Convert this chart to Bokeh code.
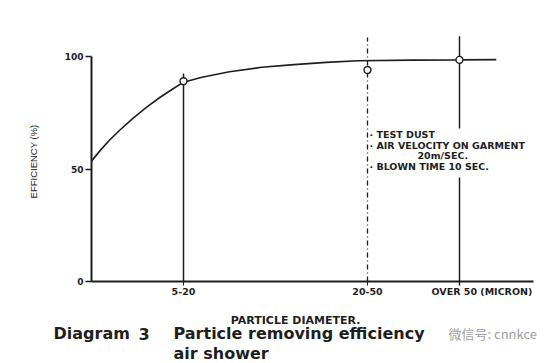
import math
from bokeh.plotting import figure
from bokeh.models import Range1d, LinearAxis, FixedTicker, ColumnDataSource
from bokeh.core.properties import value
from bokeh.embed import file_html
from bokeh.resources import INLINE

# ---- data ----
categories = ["5-20", "20-50", "OVER 50 (MICRON)"]
cat_pos = [1, 3, 4]                 # positions of the three particle classes
efficiency = [89, 94, 98.5]         # measured points (%)

curve_x = [0, 0.1, 0.2, 0.3, 0.45, 0.6, 0.75, 0.9, 1.0, 1.2, 1.5, 1.85, 2.2, 2.55, 2.9, 3.5, 4.0, 4.4]
curve_y = [53.5, 58.5, 63, 67, 72.5, 77.5, 82, 86, 88.6, 90.8, 93.2, 95.2, 96.4, 97.4, 98.1, 98.4, 98.5, 98.6]

y_ticks = [0, 50, 100]

notes = ["\u00b7 TEST DUST", "\u00b7 AIR VELOCITY ON GARMENT", "20m/SEC.", "\u00b7 BLOWN TIME 10 SEC."]

INK = "#1e1e1e"
BOLD = value("DejaVu Sans")

# page pixel -> data helpers (frame covers the whole canvas)
def dx(px):
    return (px - 91) / 92

def dy(py):
    return (281 - py) / 2.25

p = figure(width=554, height=363, output_backend="svg", toolbar_location=None,
           x_range=Range1d(dx(0), dx(554)), y_range=Range1d(dy(363), dy(0)),
           x_axis_type=None, y_axis_type=None, min_border=0)
p.outline_line_color = None
p.xgrid.visible = False
p.ygrid.visible = False
p.background_fill_color = "white"
p.border_fill_color = "white"

# axes
yax = LinearAxis(fixed_location=0, bounds=(0, 100), ticker=FixedTicker(ticks=y_ticks))
yax.axis_line_width = 2
yax.axis_line_color = INK
yax.major_tick_out = 6
yax.major_tick_in = 0
yax.major_tick_line_color = INK
yax.major_tick_line_width = 1.5
yax.minor_tick_line_color = None
yax.major_label_standoff = 2
yax.major_label_text_font = "DejaVu Sans"
yax.major_label_text_font_style = "bold"
yax.major_label_text_font_size = "9px"
yax.major_label_text_color = INK
p.add_layout(yax, "left")

xax = LinearAxis(fixed_location=0, bounds=(0, 4.8), ticker=FixedTicker(ticks=cat_pos[:2]),
                 major_label_overrides={cat_pos[0]: categories[0], cat_pos[1]: categories[1]})
xax.axis_line_width = 2
xax.axis_line_color = INK
xax.major_tick_out = 4
xax.major_tick_in = 0
xax.major_tick_line_color = INK
xax.minor_tick_line_color = None
xax.major_label_standoff = 2
xax.major_label_text_font = "DejaVu Sans"
xax.major_label_text_font_style = "bold"
xax.major_label_text_font_size = "9.5px"
xax.major_label_text_color = INK
p.add_layout(xax, "below")

# vertical guide lines
p.segment(x0=[cat_pos[0]], y0=[0], x1=[cat_pos[0]], y1=[92.4], line_color=INK, line_width=1.5)
p.segment(x0=[cat_pos[1]], y0=[0], x1=[cat_pos[1]], y1=[108.4], line_color=INK,
          line_width=1.3, line_dash="5 3 1 3")
p.segment(x0=[cat_pos[2], cat_pos[2]], y0=[68, -1.8], x1=[cat_pos[2], cat_pos[2]], y1=[109, 46.2],
          line_color=INK, line_width=1.5)

# efficiency curve and measured points
p.line(curve_x, curve_y, line_color=INK, line_width=1.6)
src = ColumnDataSource(dict(x=cat_pos, y=efficiency))
p.scatter("x", "y", source=src, size=7, fill_color="white", line_color=INK, line_width=1.4)

# last tick label (left-aligned like the reference)
p.text(x=[dx(431)], y=[dy(291)], text=[categories[2]], text_font=BOLD,
       text_font_style="bold", text_font_size="9.5px", text_color=INK,
       text_align="left", text_baseline="middle")

# axis titles
p.text(x=[dx(33)], y=[dy(161)], text=["EFFICIENCY (%)"], angle=math.pi / 2,
       text_font=value("Liberation Sans"), text_font_size="9.5px", text_color=INK,
       text_align="center", text_baseline="middle")
p.text(x=[dx(295)], y=[dy(320)], text=["PARTICLE DIAMETER."], text_font=BOLD,
       text_font_style="bold", text_font_size="11px", text_color=INK,
       text_align="center", text_baseline="middle")

# annotation notes
p.text(x=[dx(369), dx(369), dx(417), dx(369)],
       y=[dy(134), dy(145), dy(155), dy(166)],
       text=notes, text_font=BOLD, text_font_style="bold", text_font_size="9.5px",
       text_color=INK, text_align="left", text_baseline="middle")

# caption
p.text(x=[dx(53), dx(138), dx(173), dx(173)],
       y=[dy(333), dy(333), dy(333), dy(353)],
       text=["Diagram", "3", "Particle removing efficiency", "air shower"],
       text_font=BOLD, text_font_style="bold", text_font_size="16px", text_color=INK,
       text_align="left", text_baseline="middle")

# watermark
p.text(x=[dx(448)], y=[dy(333)], text=["\u5fae\u4fe1\u53f7: cnnkce"],
       text_font=value("Noto Sans CJK SC"), text_font_size="13px", text_color="#a0a0a0",
       text_align="left", text_baseline="middle")

open("out.html", "w").write(file_html(p, INLINE))
